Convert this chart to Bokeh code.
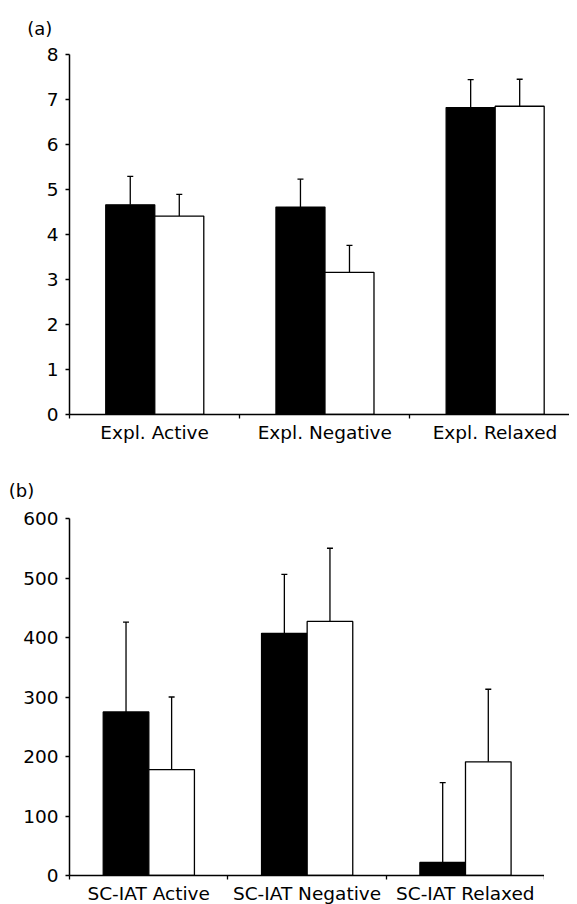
from bokeh.plotting import figure
from bokeh.models import (ColumnDataSource, FixedTicker, Range1d, Whisker, TeeHead, Title)
from bokeh.layouts import column
from bokeh.embed import file_html
from bokeh.resources import INLINE

# ---------------- data ----------------
cats_a = ["Expl. Active", "Expl. Negative", "Expl. Relaxed"]
dark_a = [4.66, 4.61, 6.82]
dark_a_upper = [5.29, 5.23, 7.44]
light_a = [4.41, 3.16, 6.85]
light_a_upper = [4.89, 3.76, 7.45]
yticks_a = [0, 1, 2, 3, 4, 5, 6, 7, 8]

cats_b = ["SC-IAT Active", "SC-IAT Negative", "SC-IAT Relaxed"]
dark_b = [275, 407, 22]
dark_b_upper = [426, 506, 156]
light_b = [178, 427, 191]
light_b_upper = [300, 550, 313]
yticks_b = [0, 100, 200, 300, 400, 500, 600]

FONT = "DejaVu Sans"
FSIZE = "18.5px"
BAR_W = 0.288
OFF_DARK = 0.357
OFF_LIGHT = 0.645


def panel(cats, dark, dark_up, light, light_up, yticks, frame_w, x_end,
          frame_h, top, bottom, standoff, tag, tag_offset, tag_standoff):
    p = figure(frame_width=frame_w, frame_height=frame_h,
               x_range=Range1d(0, x_end), y_range=Range1d(yticks[0], yticks[-1]),
               output_backend="svg", toolbar_location=None,
               min_border_left=69, min_border_right=0,
               min_border_top=top, min_border_bottom=bottom)
    p.outline_line_color = None
    p.xgrid.visible = False
    p.ygrid.visible = False
    p.background_fill_color = "white"
    p.border_fill_color = "white"

    n = len(cats)
    xd = [i + OFF_DARK for i in range(n)]
    xl = [i + OFF_LIGHT for i in range(n)]
    sd = ColumnDataSource(dict(x=xd, top=dark, up=dark_up))
    sl = ColumnDataSource(dict(x=xl, top=light, up=light_up))

    p.vbar(x="x", top="top", bottom=0, width=BAR_W, source=sd,
           fill_color="black", line_color="black", line_width=1.3)
    p.vbar(x="x", top="top", bottom=0, width=BAR_W, source=sl,
           fill_color="white", line_color="black", line_width=1.3)
    for s in (sd, sl):
        w = Whisker(source=s, base="x", lower="top", upper="up",
                    line_color="black", line_width=1.3, lower_head=None,
                    upper_head=TeeHead(size=6, line_color="black", line_width=1.3),
                    level="overlay")
        p.add_layout(w)

    # x axis
    ax = p.xaxis[0]
    ax.ticker = FixedTicker(ticks=[i + 0.5 for i in range(n)],
                            minor_ticks=list(range(n + 1)))
    ax.major_label_overrides = {i + 0.5: c for i, c in enumerate(cats)}
    ax.major_tick_out = 0
    ax.major_tick_in = 0
    ax.minor_tick_out = 4
    ax.minor_tick_in = 0
    ax.minor_tick_line_width = 1.3
    ax.axis_line_width = 1.5
    ax.major_label_standoff = standoff
    ax.major_label_text_font = FONT
    ax.major_label_text_font_size = FSIZE
    ax.major_label_text_color = "black"

    ay = p.yaxis[0]
    ay.ticker = FixedTicker(ticks=yticks, minor_ticks=[])
    ay.major_tick_out = 4
    ay.major_tick_in = 0
    ay.major_tick_line_width = 1.3
    ay.minor_tick_out = 0
    ay.minor_tick_in = 0
    ay.axis_line_width = 1.5
    ay.major_label_standoff = 7
    ay.major_label_text_font = FONT
    ay.major_label_text_font_size = FSIZE
    ay.major_label_text_color = "black"

    # panel tag
    p.add_layout(Title(text="(" + tag + ")", align="left", offset=tag_offset,
                       standoff=tag_standoff, text_font=FONT,
                       text_font_size="18px", text_font_style="normal",
                       text_color="black"), "above")
    return p


pa = panel(cats_a, dark_a, dark_a_upper, light_a, light_a_upper, yticks_a,
           frame_w=500, x_end=500 / 170.2, frame_h=360, top=54, bottom=36,
           standoff=3, tag="a", tag_offset=-42.3, tag_standoff=31)
pb = panel(cats_b, dark_b, dark_b_upper, light_b, light_b_upper, yticks_b,
           frame_w=475, x_end=3, frame_h=357, top=68, bottom=25,
           standoff=3, tag="b", tag_offset=-60.7, tag_standoff=35)

layout = column(pa, pb, spacing=0)
open("out.html", "w").write(file_html(layout, INLINE))
